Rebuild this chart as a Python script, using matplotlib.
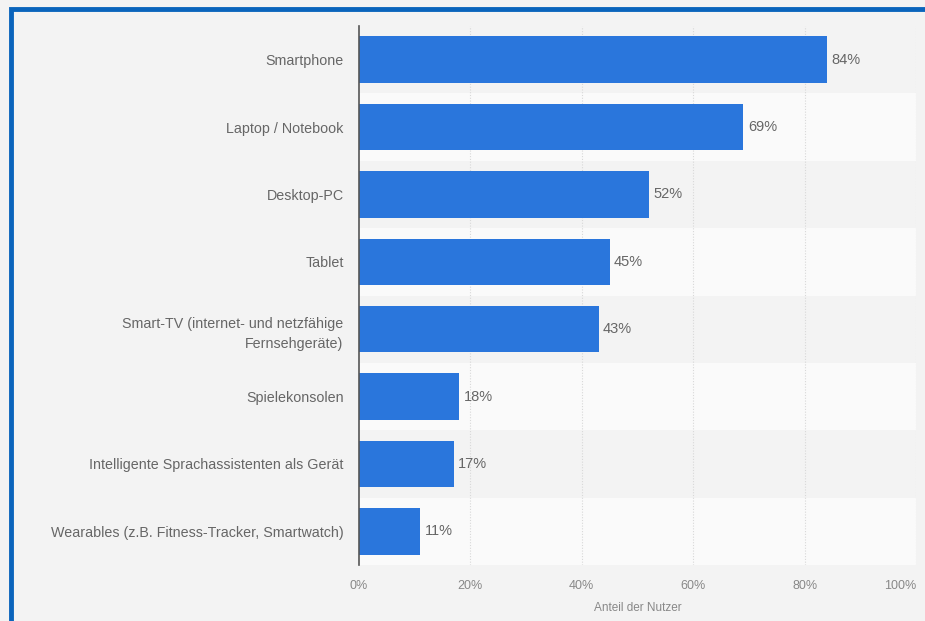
#!/usr/bin/env python3
"""Horizontal bar chart: share of users by device type."""

import matplotlib

matplotlib.use("Agg")
import matplotlib.pyplot as plt
from matplotlib.patches import Rectangle

categories = [
    "Smartphone",
    "Laptop / Notebook",
    "Desktop-PC",
    "Tablet",
    "Smart-TV (internet- und netzfähige\nFernsehgeräte)",
    "Spielekonsolen",
    "Intelligente Sprachassistenten als Gerät",
    "Wearables (z.B. Fitness-Tracker, Smartwatch)",
]
values = [84, 69, 52, 45, 43, 18, 17, 11]
x_ticks = [0, 20, 40, 60, 80, 100]
x_tick_labels = ["0%", "20%", "40%", "60%", "80%", "100%"]
x_label = "Anteil der Nutzer"

BG = "#f3f3f3"
BAND = "#fafafa"
BAR = "#2a76dc"
TEXT = "#666666"

plt.rcParams["font.family"] = ["Liberation Sans", "DejaVu Sans"]

fig = plt.figure(figsize=(9.25, 6.21), dpi=100, facecolor=BG)
ax = fig.add_axes([359 / 925, 1 - 565 / 621, 557 / 925, 539 / 621])
ax.set_facecolor(BG)

n = len(categories)
ypos = list(range(n))

# alternating row bands
for i in ypos:
    if i % 2 == 1:
        ax.axhspan(i - 0.5, i + 0.5, color=BAND, zorder=0, lw=0)

for x in x_ticks[1:]:
    ax.axvline(x, color="#d8d8d8", lw=0.8, ls=(0, (1, 1.5)), zorder=1)

ax.barh(ypos, values, height=0.69, color=BAR, zorder=2)
for y, v in zip(ypos, values):
    ax.text(v + 0.8, y, f"{v}%", va="center", ha="left", fontsize=10.5, color=TEXT)

ax.set_xlim(0, 100)
ax.set_ylim(n - 0.5, -0.5)
ax.set_yticks(ypos)
ax.set_yticklabels(categories, fontsize=10.3, color=TEXT, ha="right",
                   multialignment="right", linespacing=1.6)
ax.tick_params(axis="y", length=0, pad=11)
ax.set_xticks(x_ticks)
ax.set_xticklabels(x_tick_labels, fontsize=9, color="#888888")
ax.get_xticklabels()[-1].set_ha("right")
ax.tick_params(axis="x", length=0, pad=11)
ax.set_xlabel(x_label, fontsize=8.5, color="#888888", labelpad=7)

for side in ["top", "right", "bottom"]:
    ax.spines[side].set_visible(False)
ax.spines["left"].set_color("#555555")
ax.spines["left"].set_linewidth(1.2)

# blue frame around the chart
fig.patches.append(Rectangle((11 / 925, -0.05), 1.05, 1 - 9 / 621 + 0.05,
                             transform=fig.transFigure, fill=False,
                             edgecolor="#0a64bc", lw=3.5))

fig.savefig("out.png", dpi=100, facecolor=BG)
